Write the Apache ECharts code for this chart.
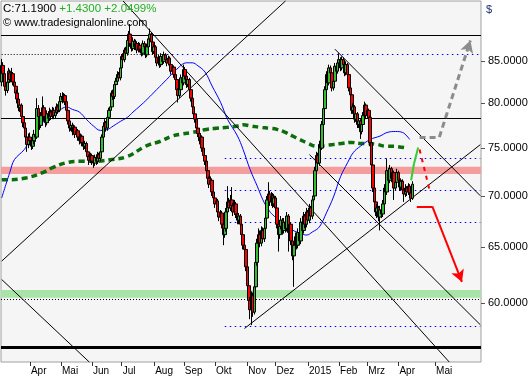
<!DOCTYPE html>
<html><head><meta charset="utf-8">
<script src="https://cdn.jsdelivr.net/npm/echarts@6/dist/echarts.min.js"></script>
<style>html,body{margin:0;padding:0;background:#fff}#c{width:531px;height:380px}</style>
</head><body><div id="c"></div>
<script>
// ---------- data ----------
const startDate = '2014-03-04';      // first candle
const lastCandleDate = '2015-04-15'; // last candle (trading days up to here)
const endDate = '2015-06-02';        // right edge (calendar days after last candle)
const monthLabels = ['2015','Feb','Mrz','Apr','Mai','Jun','Jul','Aug','Sep','Okt','Nov','Dez'];
const priceTicks = [60, 65, 70, 75, 80, 85];
const priceMin = 55.09, priceMax = 92.73;

// [open, close, low, high]
const candles = [
[82.5,84.5,82.0,85.3],[84.5,83.5,83.1,84.9],[83.5,82.0,81.6,83.8],[82.0,81.5,80.9,82.4],[81.5,82.5,81.2,83.0],[82.5,83.8,82.2,84.2],[83.6,82.8,82.4,84.0],[82.8,83.5,82.5,84.2],[83.5,82.5,82.1,83.7],[82.5,82.0,81.5,82.9],
[82.0,81.2,80.8,82.3],[81.2,80.5,80.0,81.6],[80.5,79.5,79.1,80.8],[79.5,79.8,79.0,80.4],[79.8,78.5,78.1,80.0],[78.5,77.8,77.3,78.9],[77.8,77.2,76.8,78.3],[77.2,76.2,75.8,77.6],[76.2,75.4,74.6,76.5],[75.4,76.2,75.0,76.6],
[76.2,75.8,75.3,76.7],[75.8,75.2,74.8,76.1],[75.2,75.8,74.9,76.3],[75.8,76.5,75.4,77.0],[76.5,76.2,75.7,76.9],[76.2,79.4,76.0,80.6],[79.4,78.5,78.1,79.8],[78.5,77.5,77.0,78.8],[77.5,78.6,77.2,79.0],[78.6,79.5,78.2,80.8],
[79.5,78.5,78.0,79.8],[78.5,77.8,77.3,78.8],[77.8,78.8,77.5,79.2],[78.8,78.3,77.8,79.1],[78.3,79.0,78.0,79.5],[79.0,78.5,78.1,79.3],[78.5,79.2,78.2,79.6],[79.2,78.6,78.2,79.5],[78.6,79.0,78.3,79.4],[79.0,79.6,78.7,80.0],
[79.6,79.2,78.8,79.9],[79.2,80.2,79.0,80.5],[80.2,80.8,79.9,81.2],[80.8,80.4,80.0,81.3],[80.4,80.9,80.1,81.2],[80.9,80.2,79.8,81.1],[80.2,79.2,78.8,80.4],[79.2,78.0,77.6,79.4],[78.0,77.2,76.8,78.3],[77.2,77.5,76.9,77.9],
[77.5,76.8,76.4,77.8],[76.8,77.3,76.5,77.6],[77.3,76.5,76.1,77.5],[76.5,76.9,76.2,77.2],[76.9,76.2,75.8,77.1],[76.2,75.8,75.4,76.4],[75.8,76.3,75.5,76.6],[76.3,75.6,75.2,76.5],[75.6,75.2,74.8,75.8],[75.2,75.5,74.9,75.8],
[75.5,74.6,74.2,75.7],[74.6,74.1,73.7,74.8],[74.1,73.7,73.2,74.3],[73.7,74.2,73.4,74.5],[74.2,73.6,73.2,74.4],[73.6,73.4,72.9,73.9],[73.4,74.0,73.1,74.3],[74.0,73.6,73.2,74.2],[73.6,74.3,73.3,74.6],[74.3,73.9,73.5,74.5],
[73.9,74.6,73.6,75.0],[74.6,76.2,74.3,76.5],[76.2,77.4,75.9,77.8],[77.4,77.8,76.9,78.2],[77.8,77.2,76.8,78.0],[77.2,78.4,76.9,78.7],[78.4,79.2,78.0,79.5],[79.2,79.6,78.8,80.0],[79.6,81.2,79.3,81.5],[81.2,80.8,80.4,81.6],
[80.8,82.2,80.5,82.6],[82.2,82.6,81.8,83.0],[82.6,83.4,82.2,83.8],[83.4,83.0,82.6,83.7],[83.0,84.2,82.7,84.5],[84.2,85.6,83.9,85.9],[85.6,85.2,84.8,86.0],[85.2,86.4,84.9,86.7],[86.4,86.0,85.6,86.8],[86.0,87.6,85.7,88.0],
[87.6,88.4,87.2,88.8],[88.4,87.2,86.8,89.7],[87.2,86.6,86.2,87.6],[86.6,87.5,86.3,88.0],[87.5,86.8,86.4,87.8],[86.8,87.2,86.4,87.7],[87.2,86.4,86.0,87.5],[86.4,87.0,86.1,87.4],[87.0,86.5,86.1,87.3],[86.5,86.0,85.6,86.8],
[86.0,87.2,85.7,87.6],[87.2,86.8,86.4,87.5],[86.8,85.8,85.4,87.0],[85.8,86.8,85.5,87.2],[86.8,87.8,86.5,88.2],[87.8,88.4,87.4,89.1],[88.4,87.4,87.0,88.6],[87.4,86.2,85.8,87.6],[86.2,86.8,85.9,87.2],[86.8,85.5,85.1,87.0],
[85.5,84.8,84.4,85.8],[84.8,85.4,84.5,85.8],[85.4,84.6,84.2,85.6],[84.6,85.6,84.3,86.0],[85.6,85.0,84.6,85.9],[85.0,85.8,84.7,86.2],[85.8,85.2,84.8,86.0],[85.2,84.8,84.4,85.5],[84.8,85.4,84.5,85.7],[85.4,84.6,84.2,85.6],
[84.6,83.8,83.4,84.8],[83.8,84.3,83.5,84.6],[84.3,83.4,83.0,84.5],[83.4,82.8,82.4,83.6],[82.8,81.6,81.2,83.0],[81.6,80.9,80.1,81.8],[80.9,81.6,80.6,82.0],[81.6,83.0,81.3,83.4],[83.0,82.4,82.0,83.3],[82.4,84.0,82.1,84.6],
[84.0,83.2,82.8,84.3],[83.2,82.2,81.8,83.4],[82.2,82.8,81.9,83.2],[82.8,81.6,81.2,83.0],[81.6,80.6,80.2,81.8],[80.6,79.6,79.2,80.9],[79.6,78.8,78.4,79.9],[78.8,78.2,77.8,79.1],[78.2,77.2,76.8,78.4],[77.2,76.6,76.2,77.5],
[76.6,75.8,75.4,76.9],[75.8,76.2,75.4,76.6],[76.2,75.0,74.6,76.4],[75.0,74.2,73.8,75.2],[74.2,73.6,73.2,74.5],[73.6,72.6,72.2,73.8],[72.6,71.8,71.4,72.9],[71.8,71.2,70.8,72.0],[71.2,71.6,70.9,72.0],[71.6,70.4,70.0,71.8],
[70.4,69.8,69.4,70.6],[69.8,69.2,68.8,70.0],[69.2,69.5,68.9,69.8],[69.5,68.4,68.0,69.7],[68.4,67.9,67.5,68.6],[67.9,68.3,67.6,68.6],[68.3,67.2,66.8,68.5],[67.2,66.2,65.2,67.4],[66.2,66.8,65.9,67.2],[66.8,68.4,66.5,68.8],
[68.4,69.4,68.1,71.0],[69.4,68.8,68.4,69.8],[68.8,69.6,68.5,70.1],[69.6,69.0,68.6,70.9],[69.0,68.4,68.0,69.3],[68.4,69.2,68.1,69.6],[69.2,68.2,67.8,69.4],[68.2,67.6,67.2,68.5],[67.6,68.0,67.2,68.3],[68.0,67.2,66.6,68.2],
[67.2,66.2,65.8,67.4],[66.2,65.2,64.8,66.4],[65.2,64.8,64.2,65.5],[64.8,63.2,62.8,65.0],[63.2,61.5,61.1,63.4],[61.5,60.2,59.8,61.8],[60.2,59.4,58.6,60.5],[59.4,60.6,58.1,61.0],[60.6,59.2,58.8,60.9],[59.2,61.4,59.0,61.8],
[61.4,63.6,61.1,64.0],[63.6,65.4,63.3,65.8],[65.4,66.2,65.0,66.8],[66.2,65.4,65.0,66.6],[65.4,66.6,65.1,67.0],[66.6,65.8,65.4,66.9],[65.8,66.8,65.5,67.2],[66.8,67.8,66.5,68.2],[67.8,69.6,67.5,70.0],[69.6,70.2,69.2,71.4],
[70.2,69.4,69.0,70.5],[69.4,70.0,69.0,70.4],[70.0,69.2,68.8,70.3],[69.2,69.8,68.9,70.2],[69.8,68.8,68.4,70.0],[68.8,67.2,66.8,69.0],[67.2,66.2,64.6,67.4],[66.2,67.0,65.8,67.3],[67.0,67.6,66.7,68.0],[67.6,66.6,66.2,67.8],
[66.6,67.4,66.3,67.8],[67.4,66.8,66.4,67.6],[66.8,68.0,66.5,68.4],[68.0,66.4,64.6,68.2],[66.4,67.2,66.0,67.6],[67.2,65.6,65.2,67.4],[65.6,64.2,63.8,65.8],[64.2,65.2,61.4,65.5],[65.2,66.0,64.9,66.4],[66.0,65.2,64.8,66.3],
[65.2,66.4,64.9,66.8],[66.4,65.6,65.2,66.6],[65.6,67.4,65.3,67.8],[67.4,66.6,66.2,67.6],[66.6,68.0,66.3,68.4],[68.0,67.2,66.8,68.2],[67.2,68.4,66.9,68.8],[68.4,67.6,67.2,68.6],[67.6,68.8,67.3,69.2],[68.8,68.0,67.6,69.0],
[68.0,69.6,67.7,70.0],[69.6,70.0,69.2,70.4],[70.0,72.6,69.8,73.0],[72.6,74.2,72.3,74.6],[74.2,73.4,73.0,74.5],[73.4,75.4,73.1,75.8],[75.4,75.0,74.6,75.8],[75.0,77.6,74.8,78.0],[77.6,79.4,77.3,79.8],[79.4,81.6,79.1,82.0],
[81.6,83.4,81.3,83.8],[83.4,82.4,82.0,83.6],[82.4,84.2,82.1,84.6],[84.2,83.6,83.2,84.5],[83.6,81.8,81.4,83.8],[81.8,82.6,81.5,83.0],[82.6,84.4,82.3,84.8],[84.4,83.8,83.4,84.7],[83.8,84.8,83.5,85.2],[84.8,85.2,84.5,86.0],
[85.2,84.2,83.8,85.5],[84.2,85.2,83.9,85.6],[85.2,84.6,84.2,85.5],[84.6,83.6,83.2,84.8],[83.6,84.6,83.3,85.0],[84.6,83.4,83.0,84.8],[83.4,81.8,81.4,83.6],[81.8,81.0,80.6,82.0],[81.0,79.2,78.8,81.2],[79.2,79.6,78.8,80.0],
[79.6,78.2,77.8,79.8],[78.2,78.8,77.9,79.2],[78.8,77.6,77.2,79.0],[77.6,78.0,77.2,78.4],[78.0,76.8,76.0,78.2],[76.8,77.6,76.5,78.0],[77.6,78.6,77.3,79.0],[78.6,79.8,78.3,80.2],[79.8,78.6,78.2,80.0],[78.6,79.2,78.3,79.6],
[79.2,78.4,78.0,79.4],[78.4,75.6,75.2,78.6],[75.6,73.2,72.8,75.8],[73.2,70.8,70.4,73.4],[70.8,69.4,69.0,71.0],[69.4,68.4,68.0,69.6],[68.4,68.8,67.8,69.2],[68.8,67.9,67.5,69.0],[67.9,68.6,66.6,69.0],[68.6,68.2,67.8,68.9],
[68.2,69.2,67.9,69.6],[69.2,70.8,68.9,71.2],[70.8,70.4,70.0,71.1],[70.4,72.6,70.1,73.9],[72.6,71.6,71.2,72.9],[71.6,72.8,71.3,73.2],[72.8,71.8,71.4,73.0],[71.8,72.4,71.5,72.8],[72.4,70.8,69.6,72.6],[70.8,71.4,70.5,71.8],
[71.4,72.4,71.1,72.8],[72.4,71.6,71.2,72.6],[71.6,70.9,70.5,71.8],[70.9,71.5,70.6,71.8],[71.5,70.6,70.2,71.7],[70.6,70.2,69.4,70.8],[70.2,70.8,69.9,71.2],[70.8,70.4,70.0,71.0],[70.4,71.0,70.1,71.3],[71.0,70.3,69.9,71.2],
[70.3,69.76,69.4,70.5],[69.76,71.19,69.6,71.5]
];

// moving averages: [trading-day index, price]
const maBlue = [[0,69.8],[6,72.54],[9,73.76],[16,74.84],[19,75.62],[23,76.32],[27,77.43],[34,78.55],[41,79.24],[46,79.59],[50,79.31],[55,79.0],[60,78.17],[65,77.43],[70,76.94],[75,77.05],[79,77.43],[84,77.94],[89,78.4],[93,79.0],[98,79.71],[103,80.47],[110,81.64],[117,82.83],[124,84.04],[131,84.82],[135,84.82],[139,84.45],[144,83.7],[149,82.03],[155,80.13],[160,78.17],[167,76.32],[171,74.84],[176,72.7],[181,71.0],[185,69.61],[189,68.61],[192,68.12],[197,67.53],[202,67.13],[206,66.64],[211,66.36],[216,66.16],[220,66.45],[225,66.94],[230,68.31],[235,69.9],[240,71.97],[245,73.44],[249,74.51],[254,75.2],[261,75.94],[268,76.32],[273,76.71],[279,76.82],[284,76.71],[287,76.32],[289,75.94]];
const maGreen = [[0,71.66],[4,71.66],[18,71.87],[29,72.39],[36,72.91],[47,73.48],[55,73.58],[65,73.58],[77,73.76],[89,74.1],[100,75.06],[105,75.4],[112,75.72],[121,76.32],[128,76.55],[135,76.71],[145,77.05],[152,77.17],[160,77.28],[167,77.43],[171,77.56],[177,77.43],[183,77.28],[190,77.17],[195,77.05],[201,76.71],[206,76.32],[211,75.94],[217,75.51],[223,75.2],[229,75.3],[235,75.4],[241,75.51],[248,75.62],[254,75.51],[259,75.51],[266,75.4],[272,75.2],[277,75.2],[285,75.06]];

// trend lines: [[index, price],[index, price]]
const trendLines = [
  [[86,92.73],[317,55.09]],
  [[0,63.72],[201,92.73]],
  [[172,57.82],[339,75.37]],
  [[236,86.51],[339,70.02]],
  [[218,74.3],[339,58.13]],
  [[0,62.05],[62,55.09]]
];
const solidLevels = [88.38, 78.63];
const thickLevel = 56.25;
const blackDotLevels = [60.34];
const topLevel = 85.82;          // black dotted left, blue dotted right
const topLevelSplit = 117;
const blueDotLevels = [73.93, 70.55, 67.39, 57.99];
const blueDotStart = 158;
const pinkBand = [72.24, 73.01];
const greenBand = [60.43, 61.13];

// forecast arrows
const greenPath = [[290,71.6],[292,73.3],[295,75.06]];
const redDashPath = [[296,74.84],[303,70.62]];
const grayPath = [[296,76.2],[310,76.2],[332,87.6]];
const redPath = [[294,68.95],[305,68.95],[326,61.83]];

// ---------- build ----------
const L = Math.log;
function ymd(d){return d.getUTCFullYear()+'-'+String(d.getUTCMonth()+1).padStart(2,'0')+'-'+String(d.getUTCDate()).padStart(2,'0');}
const dates = [];
{
  let d = new Date(startDate+'T00:00:00Z');
  const lc = new Date(lastCandleDate+'T00:00:00Z'), end = new Date(endDate+'T00:00:00Z');
  while (d <= end) {
    const wd = d.getUTCDay();
    if (d > lc || (wd !== 0 && wd !== 6)) dates.push(ymd(d));
    d = new Date(d.getTime() + 86400000);
  }
}
const isMonthStart = (i) => i > 0 && i < dates.length - 12 && dates[i].slice(0,7) !== dates[i-1].slice(0,7);
const FONT = "'Liberation Sans', Arial, sans-serif";

function seg(a, b, ls, arrow, col) {
  return [
    {coord:[a[0], L(a[1])], symbol:'none', lineStyle: ls},
    {coord:[b[0], L(b[1])], symbol: arrow ? 'arrow' : 'none', symbolSize: arrow ? [10, 12] : 0, lineStyle: ls, itemStyle:{color: col}}
  ];
}
function path(pts, ls, col) {
  const out = [];
  for (let i = 0; i < pts.length - 1; i++) out.push(seg(pts[i], pts[i+1], ls, i === pts.length - 2, col));
  return out;
}
const mlBase = {silent:true, symbol:['none','none'], label:{show:false}, emphasis:{disabled:true}, animation:false};

const levelData = [];
solidLevels.forEach(v => levelData.push({yAxis: L(v), lineStyle:{color:'#000', width:1, type:'solid'}}));
levelData.push({yAxis: L(thickLevel), lineStyle:{color:'#000', width:3, type:'solid'}});
blackDotLevels.forEach(v => levelData.push({yAxis: L(v), lineStyle:{color:'#000', width:1, type:[1,2]}}));
levelData.push(seg([0, topLevel], [topLevelSplit, topLevel], {color:'#000', width:1, type:[1,2]}, false));
levelData.push(seg([topLevelSplit, topLevel], [339, topLevel], {color:'#0000ff', width:1, type:[1.5,3.5]}, false));
blueDotLevels.forEach(v => levelData.push(seg([blueDotStart, v], [339, v], {color:'#0000ff', width:1, type:[1.5,3.5]}, false)));

const trendData = trendLines.map(t => seg(t[0], t[1], {color:'#000', width:1, type:'solid'}, false));

const arrowData = [].concat(
  path(greenPath, {color:'#33cc33', width:2, type:'solid'}, '#33cc33').map(s => { s[1].symbol = 'none'; return s; }),
  path(redDashPath, {color:'#ff0000', width:2, type:[4,5]}, '#ff0000').map(s => { s[1].symbol = 'none'; return s; }),
  path(grayPath, {color:'#8c8c8c', width:3, type:[6,4]}, '#8c8c8c'),
  path(redPath, {color:'#ff0000', width:2, type:'solid'}, '#ff0000')
);

const chart = echarts.init(document.getElementById('c'), null, {renderer:'canvas'});
chart.setOption({
  animation:false,
  backgroundColor:'#ffffff',
  textStyle:{fontFamily:FONT},
  title:{
    text:'{a|C:71.1900} {b|+1.4300} {b|+2.0499%}',
    left:0, top:0, padding:[3,3,3,3], itemGap:2,
    textStyle:{fontFamily:FONT, fontSize:11.5, fontWeight:'normal', color:'#000',
      rich:{a:{color:'#000', fontSize:11.5, fontFamily:FONT}, b:{color:'#22b022', fontSize:11.5, fontFamily:FONT}}},
    subtext:'\u00a9 www.tradesignalonline.com',
    subtextStyle:{color:'#000', fontSize:11, fontFamily:FONT}
  },
  graphic:[{type:'text', left:486, top:4, style:{text:'$', fill:'#1a2f6a', font:'11px '+FONT}}],
  grid:{left:1, top:1, right:50, bottom:18, show:true, backgroundColor:'#f5f5f5', borderColor:'#a0a0a0', borderWidth:1},
  xAxis:{
    type:'category', data:dates, boundaryGap:true,
    axisLine:{show:false},
    axisTick:{show:true, alignWithLabel:true, length:4, interval:(i)=>isMonthStart(i), lineStyle:{color:'#333'}},
    axisLabel:{interval:(i)=>isMonthStart(i), align:'left', margin:4,
      color:'#000', fontSize:10, fontFamily:FONT, padding:[0,0,0,1],
      formatter:(v)=>monthLabels[parseInt(v.slice(5,7),10)-1]},
    splitLine:{show:false}
  },
  yAxis:{
    type:'value', position:'right', min:L(priceMin), max:L(priceMax),
    splitLine:{show:false}, axisLine:{show:false},
    axisTick:{show:true, length:4, customValues:priceTicks.map(L), lineStyle:{color:'#555'}},
    axisLabel:{customValues:priceTicks.map(L), formatter:(v)=>Math.exp(v).toFixed(4), margin:7, color:'#000', fontSize:11, fontFamily:FONT}
  },
  series:[
    {type:'line', name:'bands', data:[], z:1, silent:true,
      markArea:{silent:true, label:{show:false}, emphasis:{disabled:true},
        data:[
          [{yAxis:L(pinkBand[0]), itemStyle:{color:'#f59c9c', opacity:1}},{yAxis:L(pinkBand[1])}],
          [{yAxis:L(greenBand[0]), itemStyle:{color:'#a8e3a8', opacity:1}},{yAxis:L(greenBand[1])}]
        ]}},
    {type:'line', name:'levels', data:[], z:2, silent:true, markLine:Object.assign({}, mlBase, {data:levelData})},
    {type:'line', name:'trend', data:[], z:3, silent:true, markLine:Object.assign({}, mlBase, {data:trendData})},
    {type:'line', name:'ma200', data:maGreen.map(p=>[p[0], L(p[1])]), z:4, silent:true, symbol:'none', smooth:0.4,
      lineStyle:{color:'#0a6e0a', width:3.5, type:[6,4], cap:'butt'}},
    {type:'line', name:'ma50', data:maBlue.map(p=>[p[0], L(p[1])]), z:4, silent:true, symbol:'none', smooth:0.4,
      lineStyle:{color:'#0000ff', width:1}},
    {type:'candlestick', name:'price', data:candles.map(r=>r.map(L)), z:5, barWidth:3, silent:true,
      itemStyle:{color:'#32c032', color0:'#ff0000', borderColor:'#000', borderColor0:'#000', borderWidth:1}},
    {type:'line', name:'arrows', data:[], z:6, silent:true, markLine:Object.assign({}, mlBase, {data:arrowData})}
  ]
});
</script>
</body></html>
